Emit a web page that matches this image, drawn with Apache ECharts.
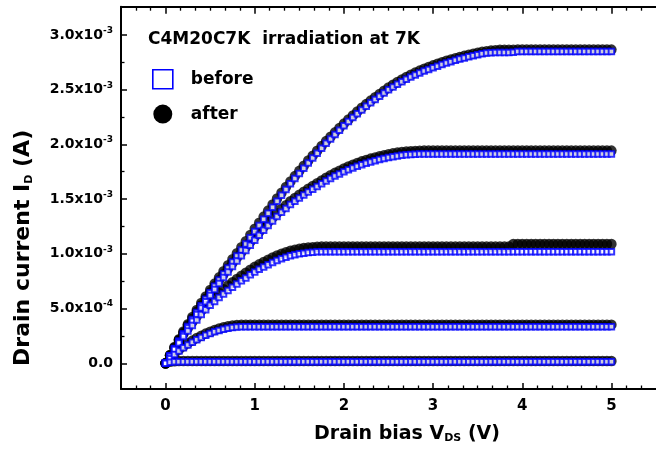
<!DOCTYPE html>
<html><head><meta charset="utf-8">
<script src="https://cdn.jsdelivr.net/npm/echarts@6/dist/echarts.min.js"></script>
<style>html,body{margin:0;padding:0;background:#fff}#c{width:656px;height:452px}</style>
</head><body><div id="c"></div>
<script>
// Drain bias values (V)
const V_DS = [
0,0.05,0.1,0.15,0.2,0.25,0.3,0.35,0.4,0.45,
0.5,0.55,0.6,0.65,0.7,0.75,0.8,0.85,0.9,0.95,
1,1.05,1.1,1.15,1.2,1.25,1.3,1.35,1.4,1.45,
1.5,1.55,1.6,1.65,1.7,1.75,1.8,1.85,1.9,1.95,
2,2.05,2.1,2.15,2.2,2.25,2.3,2.35,2.4,2.45,
2.5,2.55,2.6,2.65,2.7,2.75,2.8,2.85,2.9,2.95,
3,3.05,3.1,3.15,3.2,3.25,3.3,3.35,3.4,3.45,
3.5,3.55,3.6,3.65,3.7,3.75,3.8,3.85,3.9,3.95,
4,4.05,4.1,4.15,4.2,4.25,4.3,4.35,4.4,4.45,
4.5,4.55,4.6,4.65,4.7,4.75,4.8,4.85,4.9,4.95,
5];

// Drain current, in units of 1e-3 A (mA)
const BEFORE_1 = [
0.000,0.068,0.135,0.203,0.270,0.335,0.400,0.463,0.525,0.585,
0.645,0.703,0.760,0.815,0.870,0.925,0.980,1.035,1.090,1.148,
1.205,1.260,1.315,1.370,1.425,1.480,1.535,1.588,1.640,1.688,
1.735,1.783,1.830,1.875,1.920,1.965,2.010,2.050,2.090,2.130,
2.170,2.208,2.245,2.280,2.315,2.348,2.380,2.410,2.440,2.470,
2.500,2.525,2.550,2.573,2.595,2.615,2.635,2.653,2.670,2.685,
2.700,2.715,2.730,2.743,2.755,2.768,2.780,2.790,2.800,2.810,
2.820,2.828,2.835,2.838,2.839,2.840,2.840,2.840,2.841,2.848,
2.848,2.848,2.848,2.848,2.848,2.848,2.848,2.848,2.848,2.848,
2.848,2.848,2.848,2.848,2.848,2.848,2.848,2.848,2.848,2.848,
2.848];
const AFTER_1 = [
0.000,0.075,0.148,0.220,0.290,0.357,0.423,0.487,0.550,0.610,
0.670,0.728,0.785,0.841,0.896,0.951,1.006,1.061,1.116,1.173,
1.230,1.285,1.340,1.395,1.450,1.505,1.558,1.611,1.662,1.710,
1.758,1.805,1.852,1.897,1.942,1.986,2.030,2.070,2.110,2.150,
2.190,2.228,2.265,2.300,2.335,2.368,2.400,2.430,2.460,2.490,
2.519,2.545,2.570,2.593,2.615,2.636,2.656,2.674,2.691,2.707,
2.722,2.737,2.751,2.764,2.776,2.788,2.799,2.809,2.819,2.829,
2.838,2.846,2.852,2.857,2.861,2.864,2.864,2.864,2.865,2.866,
2.866,2.866,2.866,2.866,2.866,2.866,2.866,2.866,2.866,2.866,
2.866,2.866,2.866,2.866,2.866,2.866,2.866,2.866,2.866,2.866,
2.866];
const BEFORE_2 = [
0.000,0.066,0.130,0.195,0.260,0.323,0.385,0.445,0.505,0.563,
0.620,0.675,0.730,0.783,0.835,0.885,0.935,0.983,1.030,1.078,
1.125,1.170,1.215,1.258,1.300,1.340,1.380,1.415,1.450,1.480,
1.510,1.538,1.565,1.590,1.615,1.640,1.665,1.688,1.710,1.730,
1.750,1.768,1.785,1.800,1.815,1.828,1.840,1.851,1.862,1.871,
1.880,1.888,1.895,1.900,1.905,1.908,1.910,1.912,1.913,1.913,
1.913,1.913,1.913,1.913,1.913,1.913,1.913,1.913,1.913,1.913,
1.913,1.913,1.913,1.913,1.913,1.913,1.913,1.913,1.913,1.913,
1.913,1.913,1.913,1.913,1.913,1.913,1.913,1.913,1.913,1.913,
1.913,1.913,1.913,1.913,1.913,1.913,1.913,1.913,1.913,1.913,
1.913];
const AFTER_2 = [
0.000,0.073,0.143,0.212,0.280,0.345,0.408,0.470,0.531,0.590,
0.648,0.704,0.759,0.813,0.866,0.917,0.967,1.015,1.062,1.110,
1.156,1.201,1.246,1.289,1.331,1.371,1.410,1.445,1.480,1.510,
1.540,1.568,1.595,1.620,1.645,1.670,1.695,1.718,1.740,1.760,
1.780,1.798,1.815,1.830,1.845,1.858,1.870,1.881,1.892,1.901,
1.910,1.918,1.925,1.930,1.935,1.938,1.940,1.942,1.943,1.943,
1.943,1.943,1.943,1.943,1.943,1.943,1.943,1.943,1.943,1.943,
1.943,1.943,1.943,1.943,1.943,1.943,1.943,1.943,1.943,1.943,
1.943,1.943,1.943,1.943,1.943,1.943,1.943,1.943,1.943,1.943,
1.943,1.943,1.943,1.943,1.943,1.943,1.943,1.943,1.943,1.943,
1.943];
const BEFORE_3 = [
0.000,0.063,0.125,0.185,0.245,0.295,0.345,0.395,0.445,0.488,
0.530,0.565,0.600,0.633,0.665,0.695,0.725,0.753,0.780,0.808,
0.835,0.858,0.880,0.900,0.920,0.938,0.955,0.969,0.982,0.991,
1.000,1.006,1.012,1.015,1.018,1.020,1.020,1.020,1.020,1.020,
1.020,1.020,1.020,1.020,1.020,1.020,1.020,1.020,1.020,1.020,
1.020,1.020,1.020,1.020,1.020,1.020,1.020,1.020,1.020,1.020,
1.020,1.020,1.020,1.020,1.020,1.020,1.020,1.020,1.020,1.020,
1.020,1.020,1.020,1.020,1.020,1.020,1.020,1.020,1.020,1.020,
1.020,1.020,1.020,1.020,1.020,1.020,1.020,1.020,1.020,1.020,
1.020,1.020,1.020,1.020,1.020,1.020,1.020,1.020,1.020,1.020,
1.020];
const AFTER_3 = [
0.000,0.070,0.138,0.203,0.268,0.322,0.376,0.429,0.481,0.526,
0.570,0.607,0.643,0.677,0.710,0.741,0.771,0.800,0.827,0.855,
0.881,0.904,0.926,0.946,0.966,0.984,1.001,1.015,1.028,1.038,
1.047,1.053,1.058,1.061,1.064,1.066,1.066,1.066,1.066,1.066,
1.066,1.066,1.066,1.066,1.066,1.066,1.066,1.066,1.066,1.066,
1.066,1.066,1.066,1.066,1.066,1.066,1.066,1.066,1.066,1.066,
1.066,1.066,1.066,1.066,1.066,1.066,1.066,1.066,1.066,1.066,
1.066,1.066,1.066,1.066,1.066,1.066,1.066,1.066,1.090,1.090,
1.090,1.090,1.090,1.090,1.090,1.090,1.090,1.090,1.090,1.090,
1.090,1.090,1.090,1.090,1.090,1.090,1.090,1.090,1.090,1.090,
1.090];
const BEFORE_4 = [
0.000,0.042,0.080,0.113,0.142,0.168,0.192,0.215,0.236,0.255,
0.272,0.287,0.300,0.311,0.320,0.327,0.331,0.333,0.334,0.334,
0.334,0.334,0.334,0.334,0.334,0.334,0.334,0.334,0.334,0.334,
0.334,0.334,0.334,0.334,0.334,0.334,0.334,0.334,0.334,0.334,
0.334,0.334,0.334,0.334,0.334,0.334,0.334,0.334,0.334,0.334,
0.334,0.334,0.334,0.334,0.334,0.334,0.334,0.334,0.334,0.334,
0.334,0.334,0.334,0.334,0.334,0.334,0.334,0.334,0.334,0.334,
0.334,0.334,0.334,0.334,0.334,0.334,0.334,0.334,0.334,0.334,
0.334,0.334,0.334,0.334,0.334,0.334,0.334,0.334,0.334,0.334,
0.334,0.334,0.334,0.334,0.334,0.334,0.334,0.334,0.334,0.334,
0.334];
const AFTER_4 = [
0.000,0.048,0.090,0.125,0.155,0.182,0.207,0.231,0.252,0.271,
0.288,0.304,0.317,0.329,0.338,0.345,0.349,0.351,0.352,0.353,
0.353,0.353,0.353,0.353,0.353,0.353,0.353,0.353,0.353,0.353,
0.353,0.353,0.353,0.353,0.353,0.353,0.353,0.353,0.353,0.353,
0.353,0.353,0.353,0.353,0.353,0.353,0.353,0.353,0.353,0.353,
0.353,0.353,0.353,0.353,0.353,0.353,0.353,0.353,0.353,0.353,
0.353,0.353,0.353,0.353,0.353,0.353,0.353,0.353,0.353,0.353,
0.353,0.353,0.353,0.353,0.353,0.353,0.353,0.353,0.353,0.353,
0.353,0.353,0.353,0.353,0.353,0.353,0.353,0.353,0.353,0.353,
0.353,0.353,0.353,0.353,0.353,0.353,0.353,0.353,0.353,0.353,
0.353];
const BEFORE_5 = [
0.000,0.010,0.014,0.015,0.015,0.015,0.015,0.015,0.015,0.015,
0.015,0.015,0.015,0.015,0.015,0.015,0.015,0.015,0.015,0.015,
0.015,0.015,0.015,0.015,0.015,0.015,0.015,0.015,0.015,0.015,
0.015,0.015,0.015,0.015,0.015,0.015,0.015,0.015,0.015,0.015,
0.015,0.015,0.015,0.015,0.015,0.015,0.015,0.015,0.015,0.015,
0.015,0.015,0.015,0.015,0.015,0.015,0.015,0.015,0.015,0.015,
0.015,0.015,0.015,0.015,0.015,0.015,0.015,0.015,0.015,0.015,
0.015,0.015,0.015,0.015,0.015,0.015,0.015,0.015,0.015,0.015,
0.015,0.015,0.015,0.015,0.015,0.015,0.015,0.015,0.015,0.015,
0.015,0.015,0.015,0.015,0.015,0.015,0.015,0.015,0.015,0.015,
0.015];
const AFTER_5 = [
0.000,0.014,0.019,0.020,0.021,0.021,0.021,0.021,0.021,0.021,
0.021,0.021,0.021,0.021,0.021,0.021,0.021,0.021,0.021,0.021,
0.021,0.021,0.021,0.021,0.021,0.021,0.021,0.021,0.021,0.021,
0.021,0.021,0.021,0.021,0.021,0.021,0.021,0.021,0.021,0.021,
0.021,0.021,0.021,0.021,0.021,0.021,0.021,0.021,0.021,0.021,
0.021,0.021,0.021,0.021,0.021,0.021,0.021,0.021,0.021,0.021,
0.021,0.021,0.021,0.021,0.021,0.021,0.021,0.021,0.021,0.021,
0.021,0.021,0.021,0.021,0.021,0.021,0.021,0.021,0.021,0.021,
0.021,0.021,0.021,0.021,0.021,0.021,0.021,0.021,0.021,0.021,
0.021,0.021,0.021,0.021,0.021,0.021,0.021,0.021,0.021,0.021,
0.021];

const BEFORE_CURVES = [BEFORE_1, BEFORE_2, BEFORE_3, BEFORE_4, BEFORE_5];
const AFTER_CURVES = [AFTER_1, AFTER_2, AFTER_3, AFTER_4, AFTER_5];

// ticks
const X_TICKS = [0, 1, 2, 3, 4, 5];
const X_MINOR = [-0.3333,-0.1667,0.1667,0.3333,0.5,0.6667,0.8333,1.1667,1.3333,1.5,1.6667,1.8333,
  2.1667,2.3333,2.5,2.6667,2.8333,3.1667,3.3333,3.5,3.6667,3.8333,4.1667,4.3333,4.5,4.6667,4.8333,5.1667,5.3333];
const Y_TICKS = [0, 0.5, 1, 1.5, 2, 2.5, 3];            // in mA
const Y_MANTISSA = ['0.0', '5.0', '1.0', '1.5', '2.0', '2.5', '3.0'];
const Y_EXPONENT = ['', '-4', '-3', '-3', '-3', '-3', '-3'];
const Y_MINOR = [0.25, 0.75, 1.25, 1.75, 2.25, 2.75];

const FONT = 'DejaVu Sans';
const BLUE = '#0000ff';

function pts(curves) {
  const out = [];
  curves.forEach(c => c.forEach((y, i) => out.push([V_DS[i], y])));
  return out;
}

const chart = echarts.init(document.getElementById('c'), null, {renderer: 'canvas'});
function nameRich(size) {
  return {
    m: {fontFamily: FONT, fontWeight: 'bold', fontSize: size, color: '#000', lineHeight: size + 1},
    sub: {fontFamily: FONT, fontWeight: 'bold', fontSize: 11, color: '#000', lineHeight: 12, verticalAlign: 'bottom'}
  };
}
const baseX = {
  type: 'value', min: -0.5, max: 5.5, gridIndex: 0,
  splitLine: {show: false}
};
const baseY = {
  type: 'value', min: -0.235, max: 3.258, gridIndex: 0,
  splitLine: {show: false}
};
chart.setOption({
  animation: false,
  backgroundColor: '#fff',
  title: {
    text: 'C4M20C7K  irradiation at 7K', left: 148, top: 31, padding: 0,
    textStyle: {fontFamily: FONT, fontWeight: 'bold', fontSize: 17, color: '#000'}
  },
  legend: {
    orient: 'vertical', left: 152, top: 69, padding: 0,
    itemWidth: 20, itemHeight: 19, itemGap: 15,
    textStyle: {fontFamily: FONT, fontWeight: 'bold', fontSize: 17, color: '#000', padding: [0, 0, 0, 13]},
    data: [
      {name: 'before', icon: 'rect', itemStyle: {color: '#fff', borderColor: BLUE, borderWidth: 1.6, opacity: 1}},
      {name: 'after', icon: 'circle', itemStyle: {color: '#000000', borderColor: '#000000', borderWidth: 0, opacity: 1}}
    ]
  },
  grid: {left: 121, top: 6.7, width: 544, height: 382.3, containLabel: false},
  xAxis: [
    Object.assign({}, baseX, {
      position: 'bottom',
      axisLine: {onZero: false, lineStyle: {color: '#000', width: 2}},
      axisTick: {inside: true, length: 6, lineStyle: {color: '#000', width: 1.5}, customValues: X_TICKS},
      axisLabel: {customValues: X_TICKS, margin: 10, fontFamily: FONT, fontWeight: 'bold', fontSize: 15, color: '#000'},
      name: '{m|Drain bias V}{sub|DS}{m| (V)}', nameLocation: 'middle', nameGap: 35,
      nameTextStyle: {rich: nameRich(19), padding: [0, 0, 0, 37]}
    }),
    Object.assign({}, baseX, {
      position: 'bottom',
      axisLine: {show: false, onZero: false},
      axisTick: {inside: true, length: 3.5, lineStyle: {color: '#000', width: 1.3}, customValues: X_MINOR},
      axisLabel: {show: false}
    }),
    Object.assign({}, baseX, {
      position: 'top',
      axisLine: {onZero: false, lineStyle: {color: '#000', width: 2}},
      axisTick: {inside: true, length: 7, lineStyle: {color: '#000', width: 1.5}, customValues: X_TICKS},
      axisLabel: {show: false}
    }),
    Object.assign({}, baseX, {
      position: 'top',
      axisLine: {show: false, onZero: false},
      axisTick: {inside: true, length: 4, lineStyle: {color: '#000', width: 1.3}, customValues: X_MINOR},
      axisLabel: {show: false}
    })
  ],
  yAxis: [
    Object.assign({}, baseY, {
      position: 'left',
      axisLine: {onZero: false, lineStyle: {color: '#000', width: 2}},
      axisTick: {inside: true, length: 6, lineStyle: {color: '#000', width: 1.5}, customValues: Y_TICKS},
      axisLabel: {
        customValues: Y_TICKS, margin: 8,
        formatter: function (v) {
          let i = Y_TICKS.findIndex(t => Math.abs(t - v) < 1e-9);
          if (i < 0) return '';
          if (!Y_EXPONENT[i]) return '{m|' + Y_MANTISSA[i] + '}';
          return '{m|' + Y_MANTISSA[i] + 'x10}{s|' + Y_EXPONENT[i] + '}';
        },
        rich: {
          m: {fontFamily: FONT, fontWeight: 'bold', fontSize: 14, color: '#000', lineHeight: 18},
          s: {fontFamily: FONT, fontWeight: 'bold', fontSize: 9, color: '#000', lineHeight: 10, verticalAlign: 'top'}
        }
      },
      name: '{m|Drain current I}{sub|D}{m| (A)}', nameLocation: 'middle', nameGap: 86,
      nameTextStyle: {rich: nameRich(22), padding: [0, 100, 0, 0]}
    }),
    Object.assign({}, baseY, {
      position: 'left',
      axisLine: {show: false, onZero: false},
      axisTick: {inside: true, length: 3.5, lineStyle: {color: '#000', width: 1.3}, customValues: Y_MINOR},
      axisLabel: {show: false}
    })
  ],
  series: [
    {
      name: 'after', type: 'scatter', xAxisIndex: 0, yAxisIndex: 0,
      symbol: 'circle', symbolSize: 10.5, silent: true,
      itemStyle: {color: '#000000', borderColor: '#000000', borderWidth: 0},
      emphasis: {disabled: true},
      data: pts(AFTER_CURVES)
    },
    {
      name: 'before', type: 'scatter', xAxisIndex: 0, yAxisIndex: 0,
      symbol: 'rect', symbolSize: 5.5, silent: true,
      itemStyle: {color: '#fff', borderColor: BLUE, borderWidth: 2},
      emphasis: {disabled: true},
      data: pts(BEFORE_CURVES)
    }
  ]
});
</script></body></html>
